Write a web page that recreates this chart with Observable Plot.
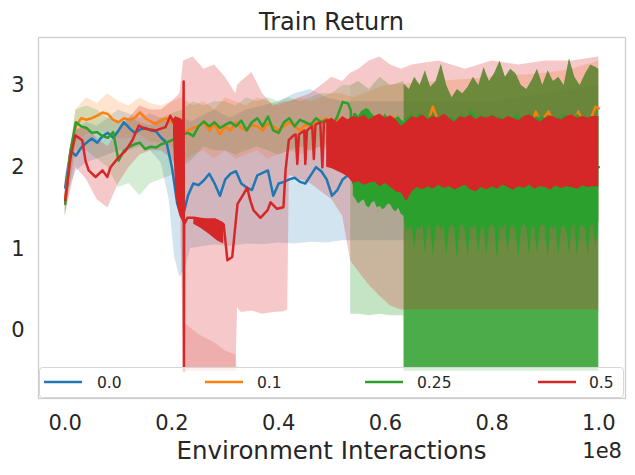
<!DOCTYPE html>
<html><head><meta charset="utf-8">
<script src="https://cdn.jsdelivr.net/npm/d3@7"></script>
<script src="https://cdn.jsdelivr.net/npm/@observablehq/plot@0.6"></script>
<style>
body{margin:0;background:#fff}
#wrap{position:relative;width:635px;height:475px}
#wrap svg{display:block}
</style>
</head><body><div id="wrap"></div>
<script>
// x values are in units of 1e8 environment interactions
const seriesNames = ["0.0", "0.1", "0.25", "0.5"];
const seriesColors = ["#1f77b4", "#ff7f0e", "#2ca02c", "#d62728"];
const xTicks = [0, 0.2, 0.4, 0.6, 0.8, 1.0];
const yTicks = [0, 1, 2, 3];

// ---- 0.0 (blue) ----
const blueX = [0,0.01,0.02,0.03,0.04,0.05,0.06,0.07,0.08,0.09,0.10,0.11,0.12,0.13,0.14,0.15,0.16,0.17,0.18,0.19,0.20,0.21,0.22,0.23,0.24,0.25,0.26,0.27,0.28,0.29,0.30,0.31,0.32,0.33,0.34,0.35,0.36,0.37,0.38,0.39,0.40,0.41,0.42,0.43,0.44,0.45,0.46,0.47,0.48,0.49,0.50,0.51,0.52,0.53,0.54,0.6,0.7,0.8,0.9,1.0];
const blueMean = [1.75,2.2,2.14,2.24,2.3,2.35,2.3,2.38,2.42,2.36,2.45,2.55,2.48,2.42,2.46,2.48,2.45,2.44,2.36,2.3,2.0,1.55,1.38,1.65,1.8,1.78,1.84,1.92,1.8,1.65,1.85,1.92,1.95,1.8,1.75,1.72,1.9,1.93,1.96,1.65,1.8,1.82,1.85,1.87,1.82,1.8,1.9,2.0,1.95,1.85,1.65,1.72,1.85,1.9,1.92,1.95,1.95,1.95,1.95,2.0];
const blueBandX = [0,0.02,0.04,0.06,0.08,0.10,0.12,0.14,0.16,0.18,0.195,0.205,0.215,0.225,0.235,0.25,0.28,0.31,0.34,0.37,0.40,0.43,0.46,0.49,0.52,0.55,0.6,0.7,0.8,0.9,1.0];
const blueLo = [1.6,1.95,2.05,2.1,2.15,2.2,2.2,2.25,2.2,2.05,1.6,0.9,0.65,0.75,1.0,1.02,1.05,1.03,1.06,1.05,1.07,1.06,1.08,1.07,1.1,1.1,1.1,1.1,1.1,1.1,1.1];
const blueHi = [1.9,2.45,2.55,2.5,2.6,2.7,2.65,2.6,2.65,2.6,2.55,2.55,2.6,2.6,2.55,2.6,2.7,2.6,2.7,2.75,2.8,2.9,2.95,2.85,2.8,2.8,2.8,2.8,2.8,2.9,3.0];

// ---- 0.1 (orange) ----
const orangeX = [0,0.01,0.02,0.03,0.04,0.05,0.06,0.07,0.08,0.09,0.10,0.11,0.12,0.13,0.14,0.15,0.16,0.17,0.18,0.19,0.20,0.21,0.22,0.23,0.24,0.25,0.26,0.27,0.28,0.29,0.30,0.31,0.32,0.33,0.34,0.35,0.36,0.37,0.38,0.39,0.40,0.41,0.42,0.43,0.44,0.45,0.46,0.47,0.48,0.49,0.50,0.51,0.52,0.53,0.54,0.56,0.567,0.575,0.6,0.615,0.63,0.66,0.68,0.689,0.7,0.75,0.8,0.85,0.875,0.882,0.89,0.906,0.915,0.95,0.962,0.97,0.985,0.994,1.0];
const orangeMean = [1.6,2.2,2.5,2.6,2.58,2.6,2.63,2.67,2.65,2.58,2.55,2.6,2.58,2.6,2.67,2.6,2.56,2.53,2.57,2.6,2.55,2.5,2.42,2.45,2.48,2.5,2.55,2.45,2.52,2.4,2.5,2.45,2.55,2.48,2.45,2.52,2.5,2.45,2.53,2.5,2.45,2.5,2.55,2.5,2.45,2.52,2.5,2.55,2.57,2.6,2.55,2.58,2.6,2.55,2.5,2.55,2.66,2.55,2.5,2.62,2.5,2.5,2.55,2.74,2.55,2.5,2.5,2.52,2.55,2.68,2.55,2.68,2.55,2.52,2.68,2.55,2.6,2.74,2.72];
const orangeBandX = [0,0.02,0.04,0.06,0.08,0.1,0.12,0.14,0.16,0.18,0.2,0.22,0.24,0.26,0.28,0.3,0.32,0.34,0.36,0.38,0.4,0.42,0.44,0.46,0.48,0.5,0.52,0.54,0.6,0.7,0.8,0.9,0.95,1.0];
const orangeLo = [1.4,2.3,2.4,2.45,2.4,2.35,2.35,2.4,2.3,2.3,2.25,2.05,2.15,2.2,2.1,2.2,2.1,2.15,2.2,2.1,2.15,2.2,2.15,2.2,2.25,2.3,2.3,2.3,2.3,2.3,2.3,2.3,2.3,2.3];
const orangeHi = [1.8,2.7,2.85,2.78,2.9,2.8,2.75,2.85,2.78,2.75,2.8,2.85,2.75,2.8,2.7,2.85,2.8,2.75,2.85,2.8,2.75,2.8,2.85,2.8,2.85,2.9,2.9,2.85,3.0,3.05,3.1,3.15,3.2,3.3];

// ---- 0.25 (green) ----
const greenX = [0,0.01,0.02,0.03,0.04,0.05,0.06,0.07,0.08,0.09,0.10,0.11,0.12,0.13,0.14,0.15,0.16,0.17,0.18,0.19,0.20,0.21,0.22,0.23,0.24,0.25,0.26,0.27,0.28,0.29,0.30,0.31,0.32,0.33,0.34,0.35,0.36,0.37,0.38,0.39,0.40,0.41,0.42,0.43,0.44,0.45,0.46,0.47,0.48,0.49,0.50,0.51,0.52,0.53,0.535,0.54];
const greenMean = [1.55,2.2,2.55,2.5,2.48,2.42,2.43,2.38,2.36,2.43,2.08,2.2,2.25,2.28,2.3,2.22,2.25,2.24,2.28,2.3,2.33,2.36,2.4,2.42,2.38,2.5,2.56,2.5,2.55,2.48,2.52,2.55,2.5,2.57,2.45,2.55,2.6,2.5,2.62,2.45,2.42,2.55,2.6,2.5,2.58,2.55,2.52,2.6,2.55,2.58,2.5,2.62,2.8,2.78,2.7,1.8];
// rapidly oscillating stretch of the green curve: its lower and upper envelope
const greenOscX = [0.54,0.545,0.55,0.555,0.56,0.565,0.57,0.575,0.58,0.585,0.59,0.595,0.6,0.605,0.61,0.615,0.62,0.625,0.63,0.635,
  0.64,0.645,0.65,0.655,0.66,0.665,0.67,0.675,0.68,0.685,
  0.69,0.695,0.7,0.705,0.71,0.715,0.72,0.725,0.73,0.735,
  0.74,0.745,0.75,0.755,0.76,0.765,0.77,0.775,0.78,0.785,
  0.79,0.795,0.8,0.805,0.81,0.815,0.82,0.825,0.83,0.835,
  0.84,0.845,0.85,0.855,0.86,0.865,0.87,0.875,0.88,0.885,
  0.89,0.895,0.9,0.905,0.91,0.915,0.92,0.925,0.93,0.935,
  0.94,0.945,0.95,0.955,0.96,0.965,0.97,0.975,0.98,0.985,
  0.99,0.995,1.0];
const greenOscLo = [1.65,1.6,1.55,1.58,1.6,1.52,1.5,1.56,1.58,1.5,1.52,1.48,1.5,1.55,1.54,1.48,1.45,1.5,1.42,1.4,
  1.22,1.25,1.28,1.0,1.26,1.24,1.3,0.95,1.25,1.28,
  0.9,1.25,1.3,1.22,1.27,0.92,1.25,1.3,1.24,0.88,
  1.26,1.3,1.22,0.9,1.27,1.25,1.3,0.95,1.24,1.28,
  0.92,1.26,1.3,1.25,0.88,1.27,1.24,1.3,0.95,1.26,
  1.28,1.22,0.9,1.25,1.3,1.26,0.92,1.28,1.24,0.95,
  1.26,1.3,1.25,0.88,1.27,1.24,1.3,0.92,1.26,1.28,
  1.22,0.95,1.25,1.3,0.9,1.26,1.28,1.24,0.92,1.27,
  1.3,1.0,1.35];
const greenOscHi = [2.65,2.66,2.62,2.68,2.7,2.72,2.7,2.65,2.62,2.6,2.62,2.6,2.65,2.6,2.62,2.58,2.6,2.62,2.58,2.55,
  2.6,2.62,2.65,2.6,2.62,2.66,2.6,2.62,2.6,2.62,
  2.65,2.6,2.62,2.58,2.6,2.62,2.6,2.62,2.58,2.6,
  2.62,2.64,2.6,2.62,2.7,2.68,2.62,2.6,2.65,2.6,
  2.62,2.6,2.62,2.64,2.6,2.62,2.6,2.58,2.6,2.62,
  2.6,2.65,2.62,2.6,2.62,2.6,2.62,2.65,2.6,2.62,
  2.6,2.62,2.6,2.64,2.6,2.62,2.6,2.62,2.6,2.65,
  2.62,2.6,2.62,2.6,2.65,2.62,2.6,2.62,2.6,2.62,
  2.62,2.6,2.62];
const greenBandX = [0,0.02,0.04,0.06,0.08,0.10,0.12,0.14,0.16,0.18,0.20,0.22,0.24,0.26,0.28,0.30,0.32,0.34,0.36,0.38,0.40,0.42,0.44,0.46,0.48,0.50,0.52,0.535];
const greenLo = [1.4,2.2,2.2,2.1,2.0,1.75,1.8,1.65,1.8,1.85,1.9,2.0,2.1,2.25,2.2,2.2,2.15,2.2,2.25,2.2,2.15,2.2,2.25,2.2,2.25,2.2,2.3,2.3];
const greenHi = [1.7,2.7,2.75,2.7,2.6,2.55,2.6,2.55,2.5,2.6,2.65,2.7,2.8,2.75,2.8,2.8,2.75,2.85,2.8,2.85,2.8,2.85,2.8,2.85,2.9,2.9,3.0,3.0];
const greenBand2X = [0.535,0.55,0.57,0.59,0.61,0.635];
const greenLo2 = [0.2,0.2,0.18,0.2,0.18,0.18];
const greenHi2 = [3.0,3.05,2.95,3.1,3.0,3.05];
const greenBand3X = [0.635,0.645,0.655,0.665,0.675,0.685,0.695,0.705,0.715,0.725,0.735,0.745,0.755,0.765,0.775,0.785,0.795,0.805,0.815,0.825,0.835,0.845,0.855,0.865,0.875,0.885,0.895,0.905,0.915,0.925,0.935,0.945,0.955,0.965,0.975,0.985,0.995,1.0];
const greenLo3 = -0.5; // band floor, at the bottom of the visible area
const greenHi3 = [3.02,2.95,3.1,3.0,3.18,2.98,3.05,3.26,3.0,2.85,2.95,2.9,2.98,3.1,3.0,3.22,3.05,3.15,3.3,3.1,3.2,3.14,3.0,2.95,3.06,3.2,3.0,3.18,3.05,3.1,3.0,3.33,3.1,3.0,3.14,3.25,3.22,3.2];

// ---- 0.5 (red) ----
const redX = [0,0.01,0.019,0.032,0.038,0.044,0.057,0.07,0.079,0.085,0.1,0.113,0.126,0.138,0.15,0.17,0.188,0.197,0.203,0.21,0.2215,0.222,0.2225,0.223,0.229,0.241,0.26,0.28,0.297,0.304,0.313,0.323,0.335,0.341,0.347,0.353,0.366,0.379,0.385,0.397,0.409,0.413,0.419,0.428,0.432,0.435,0.438,0.448,0.45,0.453,0.463,0.466,0.469,0.478,0.482,0.485,0.49];
const redMean = [1.59,2.12,2.39,2.33,2.08,1.96,1.88,1.96,1.88,2.0,2.12,2.2,2.33,2.51,2.47,2.45,2.49,2.63,2.55,2.6,2.5,3.05,-0.5,1.3,1.38,1.38,1.36,1.36,1.3,0.86,0.9,1.55,1.68,1.75,1.59,1.47,1.38,1.47,1.57,1.49,1.51,1.96,2.33,2.39,2.4,2.04,2.4,2.45,2.04,2.45,2.5,2.1,2.52,2.55,2.0,2.55,2.57];
// rapidly oscillating stretches of the red curve: lower and upper envelope
const redOsc1X = [0.203,0.207,0.211,0.215,0.219,0.222];
const redOsc1Lo = [2.35,1.7,1.5,1.4,1.35,1.3];
const redOsc1Hi = [2.58,2.62,2.6,2.6,2.58,2.55];
const redOsc2X = [0.241,0.255,0.27,0.285,0.297];
const redOsc2Lo = [1.3,1.25,1.18,1.1,1.06];
const redOsc2Hi = [1.38,1.37,1.36,1.36,1.32];
const redOscX = [0.49,0.50,0.51,0.52,0.53,0.54,0.55,0.56,0.57,0.58,0.59,0.60,0.61,0.62,0.63,0.64,0.65,0.66,0.67,0.68,0.69,0.70,0.71,0.72,0.73,0.74,0.75,0.76,0.77,0.78,0.79,0.80,0.81,0.82,0.83,0.84,0.85,0.86,0.87,0.88,0.89,0.90,0.91,0.92,0.93,0.94,0.95,0.96,0.97,0.98,0.99,1.00];
const redOscLo = [2.0,1.98,1.95,1.92,1.88,1.8,1.82,1.78,1.8,1.82,1.76,1.8,1.75,1.7,1.68,1.58,1.7,1.75,1.72,1.76,1.73,1.78,1.74,1.76,1.72,1.75,1.78,1.72,1.7,1.75,1.72,1.76,1.73,1.78,1.75,1.72,1.76,1.74,1.78,1.73,1.76,1.75,1.72,1.77,1.74,1.76,1.75,1.73,1.77,1.75,1.76,1.76];
const redOscHi = [2.57,2.6,2.55,2.62,2.58,2.62,2.6,2.64,2.58,2.62,2.65,2.6,2.63,2.58,2.5,2.55,2.62,2.6,2.64,2.58,2.62,2.6,2.65,2.6,2.55,2.62,2.6,2.64,2.58,2.62,2.6,2.63,2.6,2.58,2.62,2.6,2.57,2.62,2.64,2.6,2.55,2.6,2.63,2.6,2.58,2.62,2.64,2.6,2.62,2.6,2.62,2.62];
const redBandX = [0,0.02,0.04,0.06,0.08,0.10,0.12,0.14,0.16,0.18,0.20,0.215,0.222,0.24,0.26,0.28,0.30,0.32,0.323,0.33,0.35,0.37,0.39,0.41,0.417,0.42,0.44,0.46,0.48,0.50,0.52,0.535,0.55,0.57,0.59,0.61,0.63,0.65,0.7,0.75,0.8,0.85,0.9,0.95,1.0];
const redLo = [1.4,2.0,1.85,1.6,1.5,1.8,2.0,2.15,2.2,2.2,2.1,1.9,-0.5,-0.5,-0.5,-0.5,-0.5,-0.5,0.28,0.22,0.24,0.2,0.22,0.23,0.25,1.9,1.85,1.8,1.7,1.6,1.4,0.85,0.72,0.55,0.42,0.3,0.25,0.25,0.25,0.25,0.25,0.25,0.25,0.25,0.25];
const redHi = [1.7,2.45,2.5,2.35,2.25,2.45,2.6,2.75,2.7,2.7,2.8,2.9,3.3,3.35,3.2,3.25,3.1,2.9,3.0,3.05,3.16,2.9,2.75,2.8,2.8,2.8,2.85,2.9,3.0,3.1,3.05,3.15,3.2,3.3,3.35,3.25,3.2,3.25,3.3,3.2,3.3,3.25,3.3,3.3,3.35];
// densely overlapped part of the red band
const redDenseX = [0.222,0.25,0.28,0.30,0.32,0.323];
const redDenseLo = -0.5;
const redDenseHi = [0.1,-0.05,-0.15,-0.25,-0.3,-0.5];

function band(X, lo, hi) {
  const L = Array.isArray(lo) ? lo : X.map(() => lo);
  if (X.length !== L.length || X.length !== hi.length) console.error("length mismatch", X.length, L.length, hi.length);
  return X.map((x, i) => ({x, lo: L[i], hi: hi[i]}));
}
function line(X, Y) {
  if (X.length !== Y.length) console.error("length mismatch", X.length, Y.length);
  return X.map((x, i) => ({x, y: Y[i]}));
}
const [cB, cO, cG, cR] = seriesColors;
const area = (data, color, op) => Plot.areaY(data, {x: "x", y1: "lo", y2: "hi", fill: color, fillOpacity: op, clip: true});
const ln = (data, color) => Plot.lineY(data, {x: "x", y: "y", stroke: color, strokeWidth: 2.5, clip: true});

const chart = Plot.plot({
  width: 635, height: 475,
  marginLeft: 38, marginRight: 10, marginTop: 37, marginBottom: 77,
  x: {domain: [-0.05, 1.05]},
  y: {domain: [-0.833, 3.588]},
  style: {fontFamily: "'DejaVu Sans', sans-serif", fontSize: "21px", color: "#262626", background: "white"},
  marks: [
    area(band(blueBandX, blueLo, blueHi), cB, 0.2),
    area(band(orangeBandX, orangeLo, orangeHi), cO, 0.2),
    area(band(greenBandX, greenLo, greenHi), cG, 0.2),
    area(band(greenBand2X, greenLo2, greenHi2), cG, 0.28),
    area(band(greenBand3X, greenLo3, greenHi3), cG, 0.86),
    area(band(redBandX, redLo, redHi), cR, 0.25),
    area(band(redDenseX, redDenseLo, redDenseHi), cR, 0.16),
    ln(line(blueX, blueMean), cB),
    ln(line(orangeX, orangeMean), cO),
    ln(line(greenX, greenMean), cG),
    area(band(greenOscX, greenOscLo, greenOscHi), cG, 1),
    area(band(redOsc1X, redOsc1Lo, redOsc1Hi), cR, 1),
    area(band(redOsc2X, redOsc2Lo, redOsc2Hi), cR, 1),
    area(band(redOscX, redOscLo, redOscHi), cR, 1),
    ln(line(redX, redMean), cR),
    Plot.axisX({ticks: xTicks, tickFormat: d3.format(".1f"), tickSize: 0, tickPadding: 17, label: null}),
    Plot.axisY({ticks: yTicks, tickFormat: d3.format("d"), tickSize: 0, tickPadding: 14, label: null}),
    Plot.frame({stroke: "#cccccc", strokeWidth: 1.25})
  ]
});
const wrap = document.getElementById("wrap");
wrap.appendChild(chart);

// overlay: title, axis label, offset text and legend
const ns = "http://www.w3.org/2000/svg";
const ov = document.createElementNS(ns, "svg");
ov.setAttribute("width", 635); ov.setAttribute("height", 475);
ov.setAttribute("style", "position:absolute;left:0;top:0;pointer-events:none");
ov.setAttribute("font-family", "DejaVu Sans, sans-serif");
ov.setAttribute("fill", "#262626");
function el(tag, attrs, text) {
  const e = document.createElementNS(ns, tag);
  for (const k in attrs) e.setAttribute(k, attrs[k]);
  if (text != null) e.textContent = text;
  ov.appendChild(e);
  return e;
}
el("text", {x: 331.5, y: 30, "text-anchor": "middle", "font-size": 24}, "Train Return");
el("text", {x: 331.5, y: 459, "text-anchor": "middle", "font-size": 24.5}, "Environment Interactions");
el("text", {x: 622, y: 458, "text-anchor": "end", "font-size": 21}, "1e8");
el("rect", {x: 39.5, y: 367.5, width: 584, height: 30, rx: 3, fill: "white", "fill-opacity": 0.8, stroke: "#d6d6d6", "stroke-width": 1});
const legLineX = [44, 205, 365, 538];
const legTextX = [97, 257, 417, 589];
seriesNames.forEach((name, i) => {
  el("line", {x1: legLineX[i], x2: legLineX[i] + 38, y1: 382, y2: 382, stroke: seriesColors[i], "stroke-width": 2.5});
  el("text", {x: legTextX[i], y: 388, "font-size": 15.5}, name);
});
wrap.appendChild(ov);
</script>
</body></html>
